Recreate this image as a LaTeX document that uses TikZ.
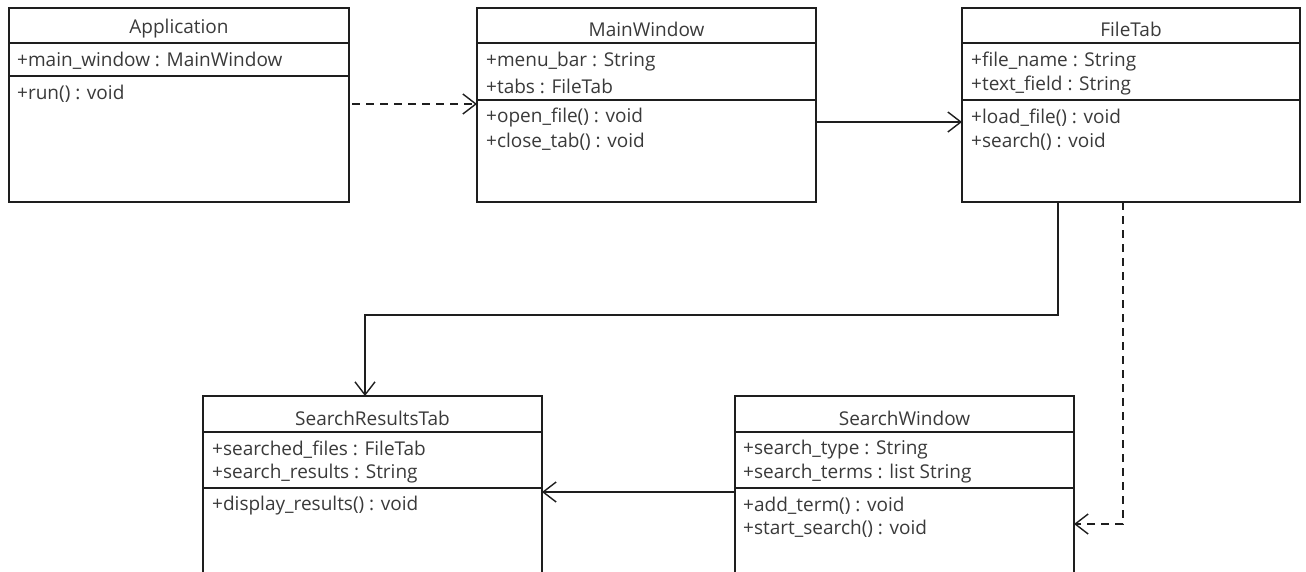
\documentclass[tikz,border=0pt]{standalone}
\usepackage{fontspec}
\setmainfont{Open Sans}
\usetikzlibrary{arrows.meta,calc}
\definecolor{txt}{HTML}{3A3A3A}
\definecolor{ln}{HTML}{1E1E1E}
\begin{document}
\begin{tikzpicture}[x=1pt,y=-1pt,
  cls/.style={draw=ln,line width=1.6pt,anchor=north west,inner sep=0pt,outer sep=0pt,rectangle},
  sepline/.style={draw=ln,line width=1.6pt},
  ttl/.style={text=txt,font=\fontsize{19}{22}\selectfont,inner sep=0pt,anchor=center},
  lbl/.style={text=txt,font=\fontsize{19}{22}\selectfont,inner sep=0pt,anchor=west},
  conn/.style={draw=ln,line width=1.4pt,-{Straight Barb[length=13pt,width=20pt,line width=1.4pt]}},
  dep/.style={conn,dash pattern=on 8pt off 6pt},
]
\fill[white] (0,0) rectangle (1306,571);
\clip (0,0) rectangle (1306,571);

% Application
\node[cls,minimum width=340pt,minimum height=194pt] (app) at (9,8) {};
\draw[sepline] ($(app.north west)+(0,35)$) -- ($(app.north east)+(0,35)$);
\draw[sepline] ($(app.north west)+(0,68)$) -- ($(app.north east)+(0,68)$);
\node[ttl] (appt) at ($(app.north)+(0,21)$) {Application};
\node[lbl] (appa1) at ($(app.north west)+(8,53)$) {+main\_window : MainWindow};
\node[lbl] (appm1) at ($(app.north west)+(8,86)$) {+run() : void};

% MainWindow
\node[cls,minimum width=339pt,minimum height=194pt] (mw) at (477,8) {};
\draw[sepline] ($(mw.north west)+(0,35)$) -- ($(mw.north east)+(0,35)$);
\draw[sepline] ($(mw.north west)+(0,92)$) -- ($(mw.north east)+(0,92)$);
\node[ttl] (mwt) at ($(mw.north)+(0,21)$) {MainWindow};
\node[lbl] (mwa1) at ($(mw.north west)+(9,54)$) {+menu\_bar : String};
\node[lbl] (mwa2) at ($(mw.north west)+(9,78)$) {+tabs : FileTab};
\node[lbl] (mwm1) at ($(mw.north west)+(9,110)$) {+open\_file() : void};
\node[lbl] (mwm2) at ($(mw.north west)+(9,134)$) {+close\_tab() : void};

% FileTab
\node[cls,minimum width=338pt,minimum height=194pt] (ft) at (962,8) {};
\draw[sepline] ($(ft.north west)+(0,35)$) -- ($(ft.north east)+(0,35)$);
\draw[sepline] ($(ft.north west)+(0,92)$) -- ($(ft.north east)+(0,92)$);
\node[ttl] (ftt) at ($(ft.north)+(0,21)$) {FileTab};
\node[lbl] (fta1) at ($(ft.north west)+(9,54)$) {+file\_name : String};
\node[lbl] (fta2) at ($(ft.north west)+(9,78)$) {+text\_field : String};
\node[lbl] (ftm1) at ($(ft.north west)+(9,110)$) {+load\_file() : void};
\node[lbl] (ftm2) at ($(ft.north west)+(9,134)$) {+search() : void};

% SearchResultsTab
\node[cls,minimum width=339pt,minimum height=230pt] (srt) at (203,396) {};
\draw[sepline] ($(srt.north west)+(0,36)$) -- ($(srt.north east)+(0,36)$);
\draw[sepline] ($(srt.north west)+(0,92)$) -- ($(srt.north east)+(0,92)$);
\node[ttl] (srtt) at ($(srt.north)+(0,22)$) {SearchResultsTab};
\node[lbl] (srta1) at ($(srt.north west)+(9,54)$) {+searched\_files : FileTab};
\node[lbl] (srta2) at ($(srt.north west)+(9,78)$) {+search\_results : String};
\node[lbl] (srtm1) at ($(srt.north west)+(9,110)$) {+display\_results() : void};

% SearchWindow
\node[cls,minimum width=339pt,minimum height=230pt] (sw) at (735,396) {};
\draw[sepline] ($(sw.north west)+(0,36)$) -- ($(sw.north east)+(0,36)$);
\draw[sepline] ($(sw.north west)+(0,92)$) -- ($(sw.north east)+(0,92)$);
\node[ttl] (swt) at ($(sw.north)+(0,22)$) {SearchWindow};
\node[lbl] (swa1) at ($(sw.north west)+(8,54)$) {+search\_type : String};
\node[lbl] (swa2) at ($(sw.north west)+(8,78)$) {+search\_terms : list String};
\node[lbl] (swm1) at ($(sw.north west)+(8,110)$) {+add\_term() : void};
\node[lbl] (swm2) at ($(sw.north west)+(8,133)$) {+start\_search() : void};

% connectors
\draw[dep] ([xshift=3pt,yshift=1pt]app.east) -- ([yshift=1pt]mw.west);
\draw[conn] ([yshift=-17pt]mw.east) -- ([yshift=-17pt]ft.west);
\draw[conn] ([xshift=-73pt]ft.south) -- ++(0,113) -| ([xshift=-7.5pt]srt.north);
\draw[dep] ([xshift=-8pt]ft.south) |- ($(sw.north east)+(0,128)$);
\draw[conn] ($(sw.north west)+(0,96)$) -- ($(srt.north east)+(0,96)$);
\end{tikzpicture}
\end{document}
